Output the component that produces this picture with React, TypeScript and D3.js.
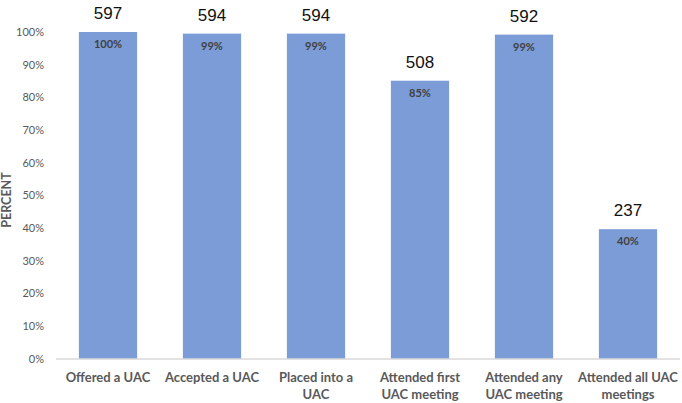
import React from "react";
import { scaleBand, scaleLinear, range } from "d3";

// chart data
const categories = [
  "Offered a UAC",
  "Accepted a UAC",
  "Placed into a UAC",
  "Attended first UAC meeting",
  "Attended any UAC meeting",
  "Attended all UAC meetings",
];
// wrapped labels as they appear under the axis
const categoryLines = [
  ["Offered a UAC"],
  ["Accepted a UAC"],
  ["Placed into a", "UAC"],
  ["Attended first", "UAC meeting"],
  ["Attended any", "UAC meeting"],
  ["Attended all UAC", "meetings"],
];
const counts = [597, 594, 594, 508, 592, 237];
const percents = [100, 99.5, 99.5, 85.1, 99.2, 39.7];
const percentLabels = ["100%", "99%", "99%", "85%", "99%", "40%"];
const yTicks = range(0, 101, 10);

const W = 682;
const H = 403;
const BAR = "#7b9cd7";

function App() {
  const x = scaleBand<string>()
    .domain(categories)
    .range([56, 680])
    .paddingInner(0.44)
    .paddingOuter(0.22);
  const y = scaleLinear().domain([0, 100]).range([359, 32]);
  const labelFont = "Lato, 'Open Sans', sans-serif";

  return (
    <svg
      width={W}
      height={H}
      style={{ position: "absolute", left: 0, top: 0, background: "#fff" }}
    >
      {/* y axis ticks */}
      <g>
        {yTicks.map((t) => (
          <text
            key={t}
            x={44}
            y={y(t)}
            dy="0.35em"
            textAnchor="end"
            fontFamily={labelFont}
            fontSize={11}
            fill="#595959"
          >
            {t}%
          </text>
        ))}
      </g>
      <text
        transform={`translate(11, 200) rotate(-90)`}
        textAnchor="middle"
        fontFamily={labelFont}
        fontSize={12.5}
        fontWeight="bold"
        fill="#595959"
      >
        PERCENT
      </text>

      {/* bars */}
      {categories.map((c, i) => (
        <g key={c}>
          <rect
            x={x(c)}
            y={y(percents[i])}
            width={x.bandwidth()}
            height={y(0) - y(percents[i])}
            fill={BAR}
          />
          <text
            x={x(c)! + x.bandwidth() / 2}
            y={y(percents[i]) + 16}
            textAnchor="middle"
            fontFamily={labelFont}
            fontSize={11}
            fontWeight="bold"
            fill="#404040"
          >
            {percentLabels[i]}
          </text>
          <text
            x={x(c)! + x.bandwidth() / 2}
            y={y(percents[i]) - 13}
            textAnchor="middle"
            fontFamily="'Liberation Sans', Arial, sans-serif"
            fontSize={17}
            fill="#111"
          >
            {counts[i]}
          </text>
          <text
            x={x(c)! + x.bandwidth() / 2}
            y={382}
            textAnchor="middle"
            fontFamily={labelFont}
            fontSize={13}
            fontWeight="bold"
            fill="#595959"
          >
            {categoryLines[i].map((l, j) => (
              <tspan key={j} x={x(c)! + x.bandwidth() / 2} dy={j === 0 ? 0 : 17}>
                {l}
              </tspan>
            ))}
          </text>
        </g>
      ))}

      {/* baseline */}
      <line x1={56} x2={680} y1={y(0)} y2={y(0)} stroke="#d9d9d9" strokeWidth={1.5} />
    </svg>
  );
}

export default App;
